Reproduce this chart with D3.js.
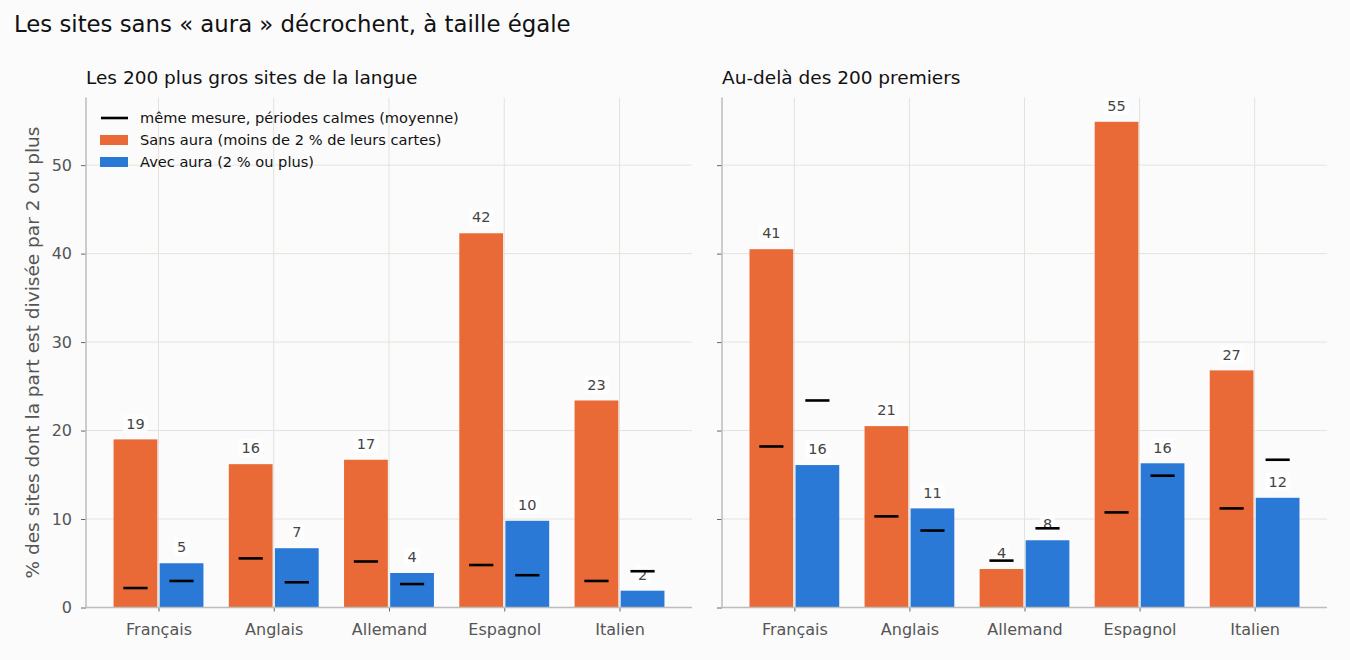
<!DOCTYPE html>
<html>
<head>
<meta charset="utf-8">
<script src="https://cdn.jsdelivr.net/npm/d3@7"></script>
<style>
  body { margin: 0; background: #fbfbfb; }
  svg { font-family: "DejaVu Sans", sans-serif; }
</style>
</head>
<body>
<svg id="chart" width="1350" height="660"></svg>
<script>
// data
var languages = ['Français', 'Anglais', 'Allemand', 'Espagnol', 'Italien'];

var topSans = [19.0, 16.2, 16.7, 42.3, 23.4];
var topAvec = [5.0, 6.7, 3.9, 9.8, 1.9];
var topSansCalm = [2.2, 5.55, 5.2, 4.8, 3.0];
var topAvecCalm = [3.0, 2.85, 2.65, 3.65, 4.1];

var restSans = [40.5, 20.5, 4.35, 54.9, 26.8];
var restAvec = [16.1, 11.2, 7.6, 16.3, 12.4];
var restSansCalm = [18.2, 10.3, 5.3, 10.75, 11.2];
var restAvecCalm = [23.4, 8.7, 8.95, 14.9, 16.7];

var yTicks = [0, 10, 20, 30, 40, 50];

var panels = [
  { title: 'Les 200 plus gros sites de la langue', x0: 86, x1: 692, sans: topSans, avec: topAvec, sansCalm: topSansCalm, avecCalm: topAvecCalm, labels: true },
  { title: 'Au-delà des 200 premiers', x0: 722, x1: 1327, sans: restSans, avec: restAvec, sansCalm: restSansCalm, avecCalm: restAvecCalm, labels: false }
];

var ORANGE = '#e96a36';
var BLUE = '#2a79d6';
var GRID = '#e3e3dc';
var SPINE = '#bdbdbd';
var TXT = '#555555';

var svg = d3.select('#chart');
svg.append('rect').attr('width', 1350).attr('height', 660).attr('fill', '#fbfbfb');

svg.append('text')
  .attr('x', 14).attr('y', 32)
  .attr('font-size', 22.8).attr('fill', '#111')
  .text('Les sites sans « aura » décrochent, à taille égale');

var yTop = 97.5, yBottom = 607.5;
var allMax = d3.max(topSans.concat(restSans, topAvecCalm, restAvecCalm));
var y = d3.scaleLinear().domain([0, allMax * 1.05]).range([yBottom, yTop]);

var barW = 0.38, off = 0.2, meanHalf = 0.105;
var xPad = (4 + off + barW / 2 + off + barW / 2) * 0.05;

panels.forEach(function(p) {
  var x = d3.scaleLinear()
    .domain([-off - barW / 2 - xPad, 4 + off + barW / 2 + xPad])
    .range([p.x0, p.x1]);

  var g = svg.append('g');

  // grid
  g.selectAll('.hgrid').data(yTicks.slice(1)).enter().append('line')
    .attr('x1', p.x0).attr('x2', p.x1)
    .attr('y1', function(d) { return y(d); }).attr('y2', function(d) { return y(d); })
    .attr('stroke', GRID).attr('stroke-width', 1);
  g.selectAll('.vgrid').data(languages).enter().append('line')
    .attr('x1', function(d, i) { return x(i); }).attr('x2', function(d, i) { return x(i); })
    .attr('y1', yTop).attr('y2', yBottom)
    .attr('stroke', GRID).attr('stroke-width', 1);

  // bars
  var series = [
    { vals: p.sans, color: ORANGE, dx: -off, calm: p.sansCalm },
    { vals: p.avec, color: BLUE, dx: off, calm: p.avecCalm }
  ];

  series.forEach(function(s) {
    g.selectAll(null).data(s.vals).enter().append('rect')
      .attr('x', function(d, i) { return x(i + s.dx - barW / 2); })
      .attr('width', function(d, i) { return x(i + s.dx + barW / 2) - x(i + s.dx - barW / 2); })
      .attr('y', function(d) { return y(d); })
      .attr('height', function(d) { return yBottom - y(d); })
      .attr('fill', s.color);
  });

  // value labels
  series.forEach(function(s) {
    var lab = g.selectAll(null).data(s.vals).enter().append('g')
      .attr('transform', function(d, i) { return 'translate(' + x(i + s.dx) + ',' + (y(d) - 16) + ')'; });
    lab.append('rect')
      .attr('x', function(d) { return -String(Math.round(d)).length * 4.6 - 3; })
      .attr('width', function(d) { return String(Math.round(d)).length * 9.2 + 6; })
      .attr('y', -9).attr('height', 18)
      .attr('fill', '#ffffff').attr('opacity', 0.75);
    lab.append('text')
      .attr('text-anchor', 'middle').attr('dy', '0.36em')
      .attr('font-size', 14.5).attr('fill', '#444')
      .text(function(d) { return Math.round(d); });
  });

  // calm-period means
  series.forEach(function(s) {
    g.selectAll(null).data(s.calm).enter().append('line')
      .attr('x1', function(d, i) { return x(i + s.dx - meanHalf); })
      .attr('x2', function(d, i) { return x(i + s.dx + meanHalf); })
      .attr('y1', function(d) { return y(d); }).attr('y2', function(d) { return y(d); })
      .attr('stroke', '#000').attr('stroke-width', 2.6);
  });

  // axes
  var xAxis = d3.axisBottom(x).tickValues(d3.range(languages.length))
    .tickFormat(function(i) { return languages[i]; }).tickSize(4).tickPadding(12);
  var xg = g.append('g').attr('transform', 'translate(0,' + yBottom + ')').call(xAxis);
  xg.select('.domain').remove();
  xg.append('line').attr('x1', p.x0).attr('x2', p.x1).attr('stroke', SPINE).attr('stroke-width', 1.5);

  var yAxis = d3.axisLeft(y).tickValues(yTicks).tickSize(5).tickPadding(9);
  if (!p.labels) yAxis.tickFormat('');
  var yg = g.append('g').attr('transform', 'translate(' + p.x0 + ',0)').call(yAxis);
  yg.select('.domain').remove();
  yg.append('line').attr('y1', yTop).attr('y2', yBottom).attr('stroke', SPINE).attr('stroke-width', 1.5);

  [xg, yg].forEach(function(ax) {
    ax.selectAll('.tick line').attr('stroke', '#666');
    ax.selectAll('.tick text').attr('fill', TXT).attr('font-size', 16)
      .attr('font-family', '"DejaVu Sans", sans-serif');
  });

  g.append('text')
    .attr('x', p.x0).attr('y', 84)
    .attr('font-size', 18.5).attr('fill', '#111')
    .text(p.title);
});

// y label
svg.append('text')
  .attr('transform', 'translate(39,' + ((yTop + yBottom) / 2) + ') rotate(-90)')
  .attr('text-anchor', 'middle')
  .attr('font-size', 18.5).attr('fill', TXT)
  .text('% des sites dont la part est divisée par 2 ou plus');

// legend
var legendItems = [
  { label: 'même mesure, périodes calmes (moyenne)', type: 'line' },
  { label: 'Sans aura (moins de 2 % de leurs cartes)', type: 'rect', color: ORANGE },
  { label: 'Avec aura (2 % ou plus)', type: 'rect', color: BLUE }
];
var leg = svg.append('g').attr('transform', 'translate(100,118)');
var li = leg.selectAll(null).data(legendItems).enter().append('g')
  .attr('transform', function(d, i) { return 'translate(0,' + (i * 22) + ')'; });
li.filter(function(d) { return d.type === 'line'; }).append('line')
  .attr('x1', 1).attr('x2', 28).attr('stroke', '#000').attr('stroke-width', 2.6);
li.filter(function(d) { return d.type === 'rect'; }).append('rect')
  .attr('x', 0).attr('y', -5).attr('width', 28).attr('height', 10)
  .attr('fill', function(d) { return d.color; });
li.append('text')
  .attr('x', 40).attr('dy', '0.35em')
  .attr('font-size', 14.6).attr('fill', '#111')
  .text(function(d) { return d.label; });
</script>
</body>
</html>
